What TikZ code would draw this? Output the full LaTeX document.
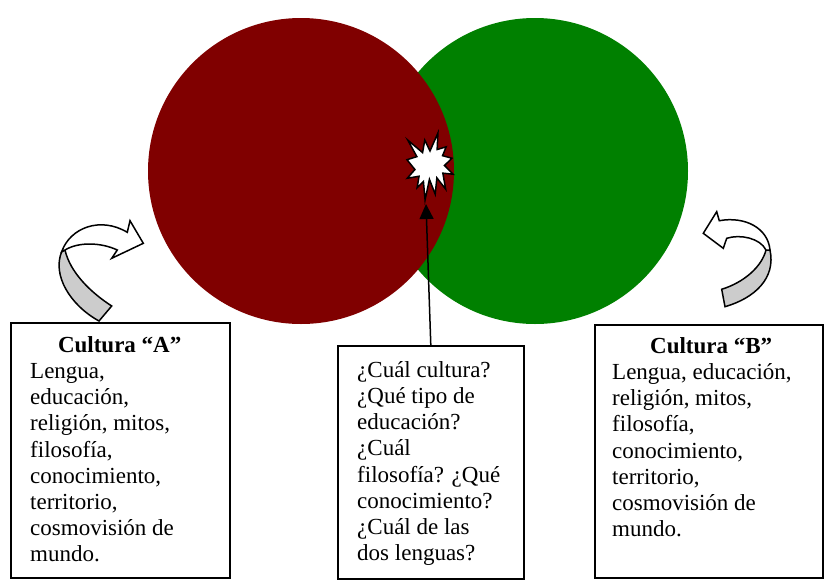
\documentclass[tikz,border=0pt]{standalone}
\usepackage{fontspec}
\setmainfont{Liberation Serif}
\usetikzlibrary{arrows.meta,calc}
\definecolor{redC}{RGB}{128,0,0}
\definecolor{greenC}{RGB}{0,128,0}
\begin{document}
\begin{tikzpicture}[x=1pt,y=-1pt,
  disc/.style={circle,inner sep=0pt,minimum size=306pt,draw=none},
  boxnode/.style={draw=black,line width=1.6pt,rectangle,inner sep=0pt,anchor=north west},
  txt/.style={anchor=north west,inner sep=0pt,align=left,font=\fontsize{23}{26.2}\selectfont},
  curl/.style={draw=black,line width=1.5pt,line join=miter},
  arr/.style={draw=black,line width=1.5pt,-{Triangle[length=15pt,width=14pt]}}]
\useasboundingbox (0,0) rectangle (828,579);
% circles
\node[disc,fill=greenC] (cB) at (535,171) {};
\node[disc,fill=redC] (cA) at (301,171) {};
% starburst
\begin{scope}[shift={(407,133)},x=0.21296pt,y=-0.31019pt]
\draw[fill=white,line width=1.5pt,line join=miter]
 (108,58) -- (145.22,0) -- (141.55,53.25) -- (183.8,44.57) -- (167.02,73.15) -- (210.97,81.37) -- (176.07,104.75) -- (216,132.9) -- (168.37,129.42) -- (181.45,180.95) -- (140.2,144.57) -- (132.47,197.37) -- (105.32,149.35) -- (84.85,216) -- (77.15,156.27) -- (47.62,176.17) -- (56.67,139.37) -- (1.35,145.87) -- (37.22,117.75) -- (0,86.15) -- (46.27,76.17) -- (3.7,22.95) -- (73.12,63.2) -- (83.52,22.95) -- cycle;
\end{scope}
\coordinate (burstpt) at (426,204);
% boxes
\node[boxnode,minimum width=219pt,minimum height=255pt] (boxA) at (10,322) {};
\node[boxnode,minimum width=186pt,minimum height=233pt] (boxM) at (337,345) {};
\node[boxnode,minimum width=228pt,minimum height=253pt] (boxB) at (594,324) {};
\draw[arr] (boxM.north) -- (burstpt);
% texts
\node[txt] (tA) at (30,333.7) {\strut\makebox[179pt][c]{\textbf{Cultura “A”}}\\Lengua,\\educación,\\religión, mitos,\\filosofía,\\conocimiento,\\territorio,\\cosmovisión de\\mundo.};
\node[txt] (tM) at (357,358.7) {\strut¿Cuál cultura?\\¿Qué tipo de\\educación?\\¿Cuál\\filosofía? ¿Qué\\conocimiento?\\¿Cuál de las\\dos lenguas?};
\node[txt] (tB) at (612,334.7) {\strut\makebox[198pt][c]{\textbf{Cultura “B”}}\\Lengua, educación,\\religión, mitos,\\filosofía,\\conocimiento,\\territorio,\\cosmovisión de\\mundo.};
% left curved arrow
\draw[curl,fill=black!20] (61.7,251.7) .. controls (52,275) and (70,305) .. (99,321) -- (111.7,306) .. controls (90,292) and (70,272) .. (65,250) -- cycle;
\draw[curl,fill=white] (61.7,251.7) .. controls (70,228) and (100,216) .. (127.3,232.3) -- (130,220.7) -- (143.3,243.3) -- (111.7,258.3) -- (117.3,250) .. controls (100,242) and (78,242) .. (65,250) -- cycle;
% right curved arrow
\draw[curl,fill=black!20] (770,250) .. controls (776,278) and (755,298) .. (725,306.7) -- (721.7,289.3) .. controls (745,282) and (762,266) .. (766,250) -- cycle;
\draw[curl,fill=white] (770,250) .. controls (768,228) and (745,216) .. (719.3,220.7) -- (716.7,211.7) -- (703.3,233.3) -- (723.3,248.3) -- (726.7,238.3) .. controls (740,234) and (760,238) .. (766,250) -- cycle;
\end{tikzpicture}
\end{document}
